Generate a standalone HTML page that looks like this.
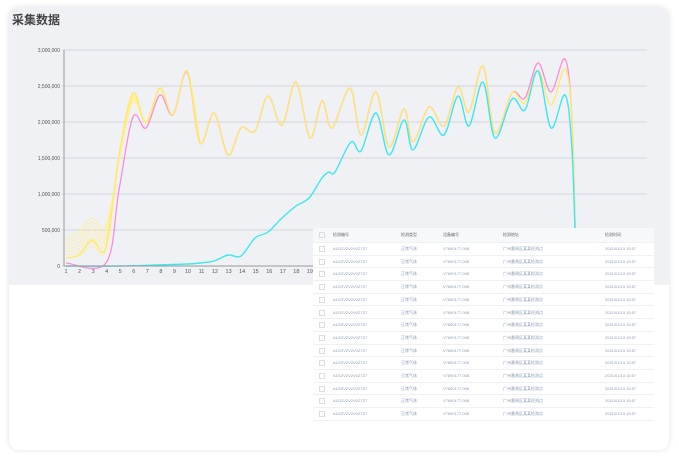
<!DOCTYPE html>
<html><head><meta charset="utf-8"><style>
body{margin:0;width:679px;height:459px;background:#fff;font-family:"Liberation Sans","Noto Sans CJK SC",sans-serif;overflow:hidden;position:relative}
.card{position:absolute;left:9px;top:7px;width:660px;height:443px;background:#fff;border-radius:10px;box-shadow:0 0 6px rgba(0,0,0,.12);overflow:hidden}
.panel{position:absolute;left:0;top:0;width:660px;height:278px;background:#f0f1f5}
.title{position:absolute;left:3px;top:4px;font-size:12px;font-weight:bold;color:#444}
svg{position:absolute;left:0;top:0}
.tbl{position:absolute;left:313px;top:228px;width:341px;height:200px;background:#fff}
.row{position:absolute;left:0;width:341px;height:12.7px;border-bottom:1px solid #eef0f3;font-size:4px;color:#8a9ab8}
.row span{position:absolute;top:4px}
.hdr{background:#f7f8fa;color:#666}
.cb{width:4px;height:4px;border:1px solid #ddd;top:4px!important;left:6px}
</style></head><body>
<div class="card"><div class="panel"><div class="title">采集数据</div></div></div>
<svg width="679" height="459" id="s"></svg>
<div class="tbl" id="t"></div>
<script>
var s=document.getElementById('s'),h='';
var ylab=['3,000,000','2,500,000','2,000,000','1,500,000','1,000,000','500,000','0'];
for(var k=0;k<7;k++){var y=50+36*k;h+='<line x1="62" x2="647" y1="'+y+'" y2="'+y+'" stroke="#d3d5da" stroke-width="1"/>';
h+='<text x="60" y="'+(y+2)+'" font-size="5" fill="#555" text-anchor="end" font-family="Liberation Sans">'+ylab[k]+'</text>';}
h+='<line x1="64" x2="64" y1="50" y2="266" stroke="#999"/>';
for(var i=1;i<=44;i++){var x=66+13.55*(i-1);h+='<text x="'+x+'" y="273" font-size="5.5" fill="#555" text-anchor="middle" font-family="Liberation Sans">'+i+'</text>';}
function path(p,c,w,o){var d='M'+p[0][0]+','+p[0][1];
for(var i=0;i<p.length-1;i++){var p0=p[i-1]||p[i],p1=p[i],p2=p[i+1],p3=p[i+2]||p2;
d+=' C'+(p1[0]+(p2[0]-p0[0])/6)+','+(p1[1]+(p2[1]-p0[1])/6)+' '+(p2[0]-(p3[0]-p1[0])/6)+','+(p2[1]-(p3[1]-p1[1])/6)+' '+p2[0]+','+p2[1];}
return '<path d="'+d+'" fill="none" stroke="'+c+'" stroke-width="'+w+'" opacity="'+(o||1)+'"/>';}
var tail=[[200,143],[214,113],[228,155],[241,128],[255,131],[268,96],[282,125],[296,82],[310,138],[322,101],[332,128],[350,88],[361,135],[376,92],[389,147],[404,109],[413,142],[429,107],[444,126],[458,87],[469,112],[483,66],[495,133],[512,93],[525,98],[538,63],[551,92],[565,59],[572,120],[576,266]];
var tailY=tail.map(function(p,i){return i>=24&&i<28?[p[0],p[1]+[5,7,13,10][i-24]]:p});
for(var j=0;j<8;j++){var b=258-j*3;
h+=path([[66,b],[79,b-2-j*0.5],[92,b-12-j],[106,b-8-j*0.5],[119,160],[133,95+j],[146,122],[160,89],[173,115],[187,71]].concat(tailY.slice(0,1)),'#fff08a',1,0.7);}
var y0=[[66,258],[79,255],[92,240],[106,248],[119,155],[133,93],[146,123],[160,88],[173,115],[187,71]].concat(tailY);
var pk=[[66,263],[106,263],[119,190],[133,117],[146,128],[160,95],[173,115],[187,72]].concat(tail);
var cy=[[66,266],[120,266],[187,264],[200,263],[214,261],[228,255],[241,256],[255,238],[268,232],[282,218],[296,206],[309,198],[322,178],[329,172],[335,172],[351,142],[361,151],[376,113],[389,155],[404,120],[413,150],[429,117],[444,135],[458,96],[469,126],[483,82],[495,138],[512,99],[525,110],[538,71],[551,128],[565,95],[572,150],[576,266]];
h+=path(pk,'#ff8ad8',1.3);h+=path(y0,'#ffe86a',1.3);h+=path(cy,'#3de6f0',1.4);
h+='<line x1="64" x2="647" y1="266" y2="266" stroke="#999"/>';
s.innerHTML=h;
var t=document.getElementById('t'),r='';
var hd=['检测编号','检测类型','设备编号','检测地址','检测时间'],xs=[20,88,130,190,292];
r+='<div class="row hdr" style="top:0;height:14px"><span class="cb"></span>';for(var c=0;c<5;c++)r+='<span style="left:'+xs[c]+'px">'+hd[c]+'</span>';r+='</div>';
var v=['A1G2V2V2V0Z7Z7','正常气体','V7890177.008','广州番禺区某某检测点','2021/01/13 15:57'];
for(var k=0;k<14;k++){r+='<div class="row" style="top:'+(14+k*12.7)+'px"><span class="cb"></span>';for(var c=0;c<5;c++)r+='<span style="left:'+xs[c]+'px">'+v[c]+'</span>';r+='</div>';}
t.innerHTML=r;
</script>
</body></html>
